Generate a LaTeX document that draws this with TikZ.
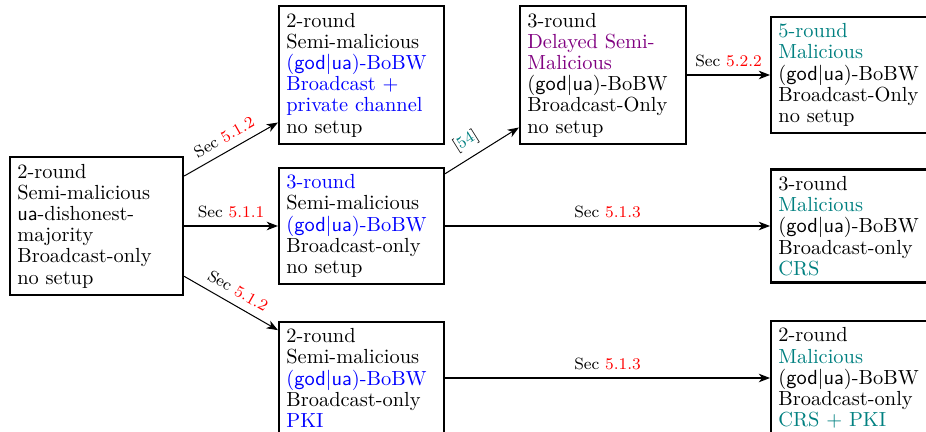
\documentclass[tikz,border=0pt]{standalone}
\usetikzlibrary{arrows.meta}
\begin{document}
\begin{tikzpicture}[x=0.49pt,y=-0.49pt,
  box/.style={draw,line width=1.1pt,align=left,inner xsep=3.6pt,inner ysep=3.3pt,
    font=\fontsize{10}{10.4}\selectfont,text width=73.6pt},
  widebox/.style={box,text width=77.6pt},
  rbox/.style={box,text width=80pt},
  arr/.style={line width=0.5pt,-{Stealth[length=5.5pt,width=4.2pt,inset=1.6pt]}},
  lbl/.style={font=\footnotesize,midway,above,sloped,inner sep=3.8pt}]
\useasboundingbox (0,0) rectangle (926,432);
\clip (0,0) rectangle (926,432);
\node[widebox] (A) at (96.5,226) {2-round\\Semi-malicious\\\textsf{ua}-dishonest-\\majority\\Broadcast-only\\no setup};
\node[box] (B) at (361.5,75) {2-round\\Semi-malicious\\{\color{blue}(\textsf{god|ua})-BoBW}\\{\color{blue}Broadcast +}\\{\color{blue}private channel}\\no setup};
\node[box] (C) at (361.5,226) {{\color{blue}3-round}\\Semi-malicious\\{\color{blue}(\textsf{god|ua})-BoBW}\\Broadcast-only\\no setup};
\node[box] (D) at (361.5,378) {2-round\\Semi-malicious\\{\color{blue}(\textsf{god|ua})-BoBW}\\Broadcast-only\\{\color{blue}PKI}};
\node[box,text width=74.1pt] (E) at (603,75) {3-round\\{\color{violet}Delayed Semi-}\\{\color{violet}Malicious}\\(\textsf{god|ua})-BoBW\\Broadcast-Only\\no setup};
\node[rbox,anchor=west] (F) at (770,75) {{\color{teal}5-round}\\{\color{teal}Malicious}\\(\textsf{god|ua})-BoBW\\Broadcast-Only\\no setup};
\node[rbox,anchor=west] (G) at (770,226) {3-round\\{\color{teal}Malicious}\\(\textsf{god|ua})-BoBW\\Broadcast-only\\{\color{teal}CRS}};
\node[rbox,anchor=west] (H) at (770,378) {2-round\\{\color{teal}Malicious}\\(\textsf{god|ua})-BoBW\\Broadcast-only\\{\color{teal}CRS + PKI}};
\draw[arr] (A) -- node[lbl] {Sec \textcolor{red}{5.1.2}} (B);
\draw[arr] (A) -- node[lbl] {Sec \textcolor{red}{5.1.1}} (C);
\draw[arr] (A) -- node[lbl] {Sec \textcolor{red}{5.1.2}} (D);
\draw[arr] (C) -- node[lbl,pos=0.4] {[\textcolor{teal}{54}]} (E);
\draw[arr] (E) -- node[lbl] {Sec \textcolor{red}{5.2.2}} (F);
\draw[arr] (C) -- node[lbl] {Sec \textcolor{red}{5.1.3}} (G);
\draw[arr] (D) -- node[lbl] {Sec \textcolor{red}{5.1.3}} (H);
\end{tikzpicture}
\end{document}
